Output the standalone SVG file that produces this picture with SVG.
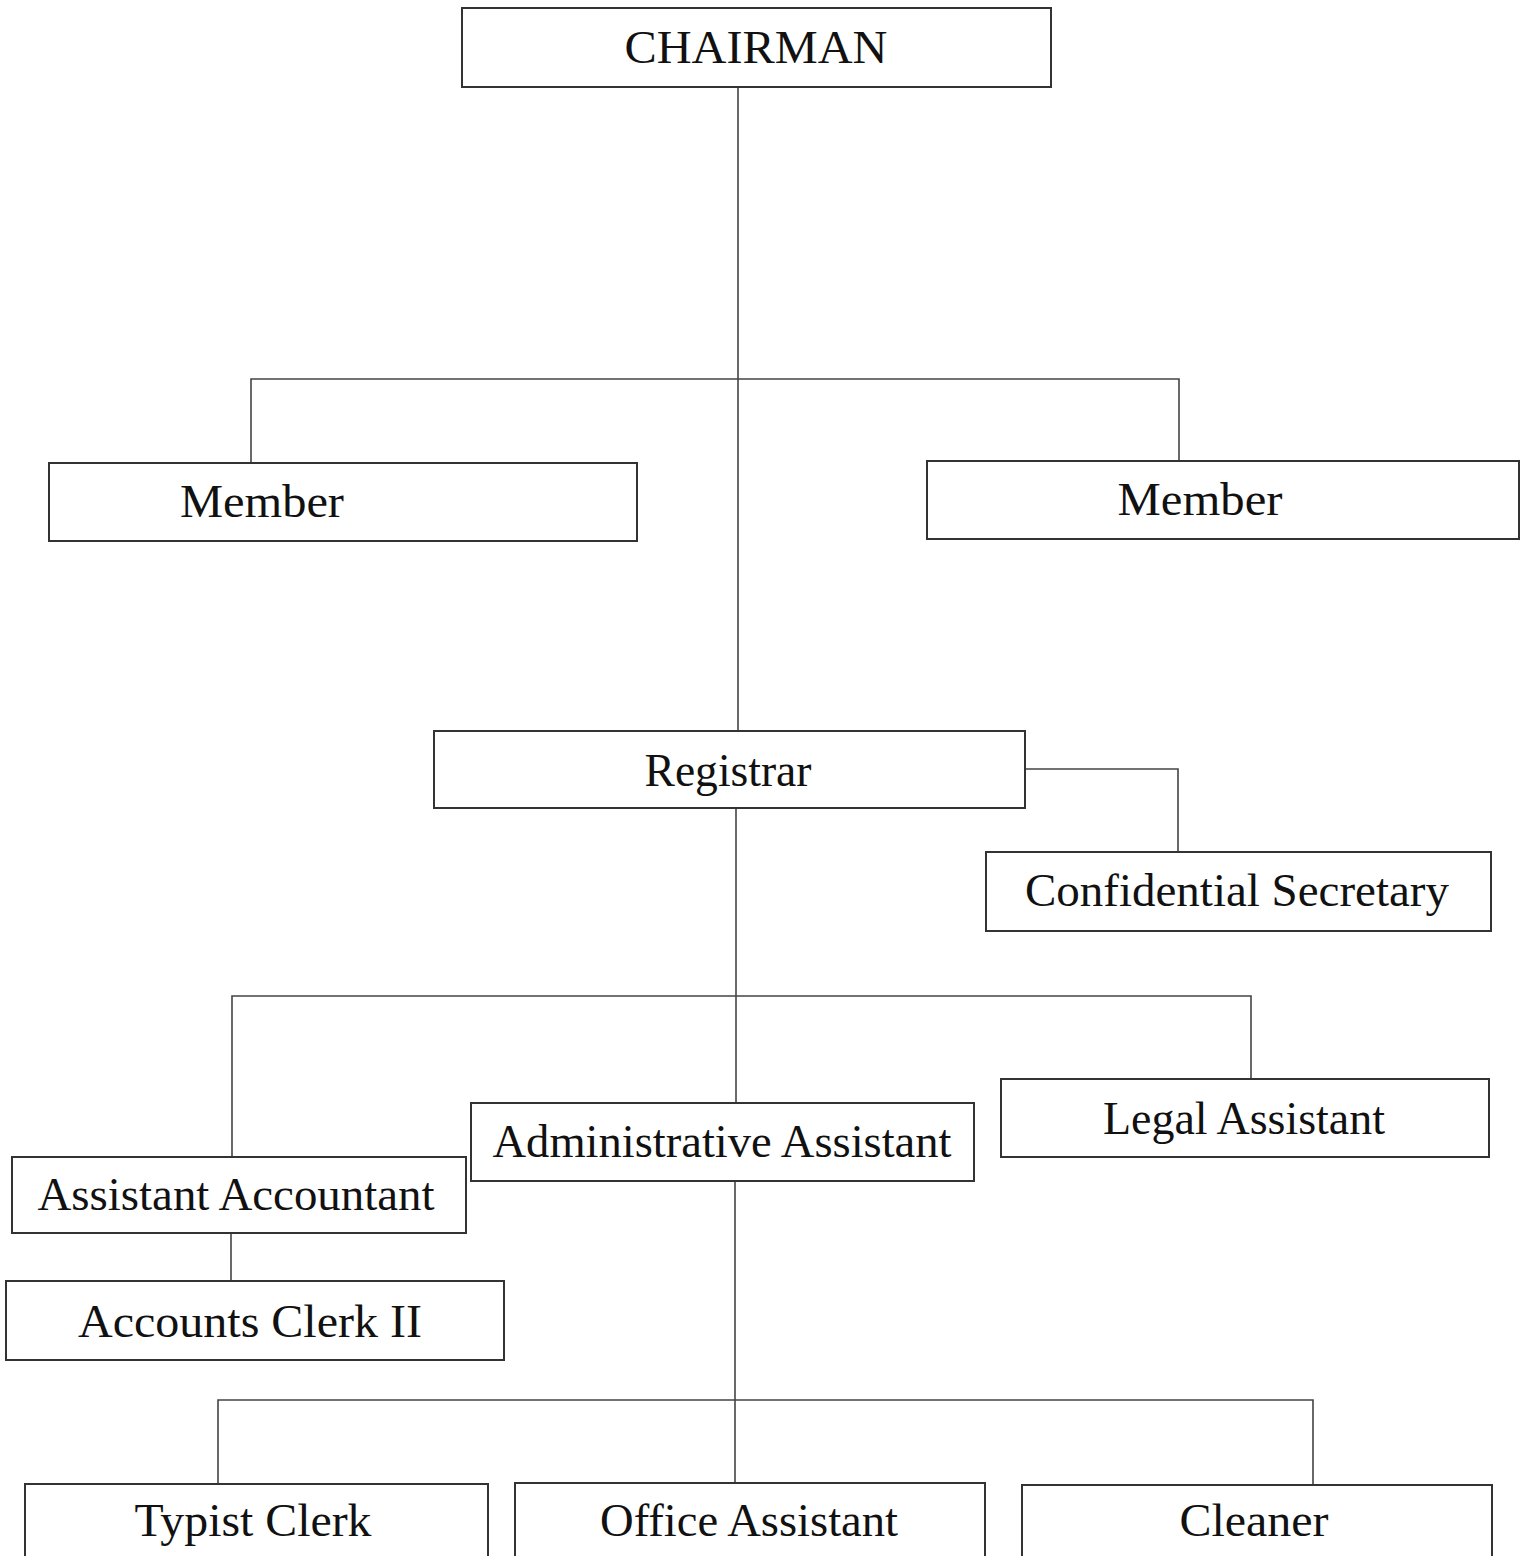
<svg xmlns="http://www.w3.org/2000/svg" width="1528" height="1556" viewBox="0 0 1528 1556">
<style>
.box{fill:#fff;stroke:#333;stroke-width:2}
.lbl{font-family:"Liberation Serif","Times New Roman",serif;font-size:46px;fill:#111;text-anchor:middle}
.conn{fill:none;stroke:#444;stroke-width:1.6}
</style>
<rect width="1528" height="1556" fill="#fff"/>
<g id="connectors">
<path class="conn" d="M738 87V731"/>
<path class="conn" d="M251 463V379H1179V461"/>
<path class="conn" d="M1025 769H1178V852"/>
<path class="conn" d="M736 808V1103"/>
<path class="conn" d="M232 1157V996H1251V1079"/>
<path class="conn" d="M231 1233V1281"/>
<path class="conn" d="M735 1181V1483"/>
<path class="conn" d="M218 1484V1400H1313V1484"/>
</g>
<g id="chairman"><rect class="box" x="462" y="8" width="589" height="79"/><text class="lbl" x="756" y="63" textLength="263" lengthAdjust="spacingAndGlyphs">CHAIRMAN</text></g>
<g id="member-left"><rect class="box" x="49" y="463" width="588" height="78"/><text class="lbl" x="262" y="517" textLength="164" lengthAdjust="spacingAndGlyphs">Member</text></g>
<g id="member-right"><rect class="box" x="927" y="461" width="592" height="78"/><text class="lbl" x="1200" y="515" textLength="165" lengthAdjust="spacingAndGlyphs">Member</text></g>
<g id="registrar"><rect class="box" x="434" y="731" width="591" height="77"/><text class="lbl" x="728" y="786" textLength="167" lengthAdjust="spacingAndGlyphs">Registrar</text></g>
<g id="confidential-secretary"><rect class="box" x="986" y="852" width="505" height="79"/><text class="lbl" x="1237" y="906" textLength="424" lengthAdjust="spacingAndGlyphs">Confidential Secretary</text></g>
<g id="administrative-assistant"><rect class="box" x="471" y="1103" width="503" height="78"/><text class="lbl" x="722" y="1157" textLength="459" lengthAdjust="spacingAndGlyphs">Administrative Assistant</text></g>
<g id="legal-assistant"><rect class="box" x="1001" y="1079" width="488" height="78"/><text class="lbl" x="1244" y="1134" textLength="282" lengthAdjust="spacingAndGlyphs">Legal Assistant</text></g>
<g id="assistant-accountant"><rect class="box" x="12" y="1157" width="454" height="76"/><text class="lbl" x="236" y="1210" textLength="397" lengthAdjust="spacingAndGlyphs">Assistant Accountant</text></g>
<g id="accounts-clerk-ii"><rect class="box" x="6" y="1281" width="498" height="79"/><text class="lbl" x="250" y="1337" textLength="344" lengthAdjust="spacingAndGlyphs">Accounts Clerk II</text></g>
<g id="typist-clerk"><rect class="box" x="25" y="1484" width="463" height="90"/><text class="lbl" x="253" y="1536" textLength="237" lengthAdjust="spacingAndGlyphs">Typist Clerk</text></g>
<g id="office-assistant"><rect class="box" x="515" y="1483" width="470" height="90"/><text class="lbl" x="749" y="1536" textLength="298" lengthAdjust="spacingAndGlyphs">Office Assistant</text></g>
<g id="cleaner"><rect class="box" x="1022" y="1485" width="470" height="90"/><text class="lbl" x="1254" y="1536" textLength="149" lengthAdjust="spacingAndGlyphs">Cleaner</text></g>
</svg>
